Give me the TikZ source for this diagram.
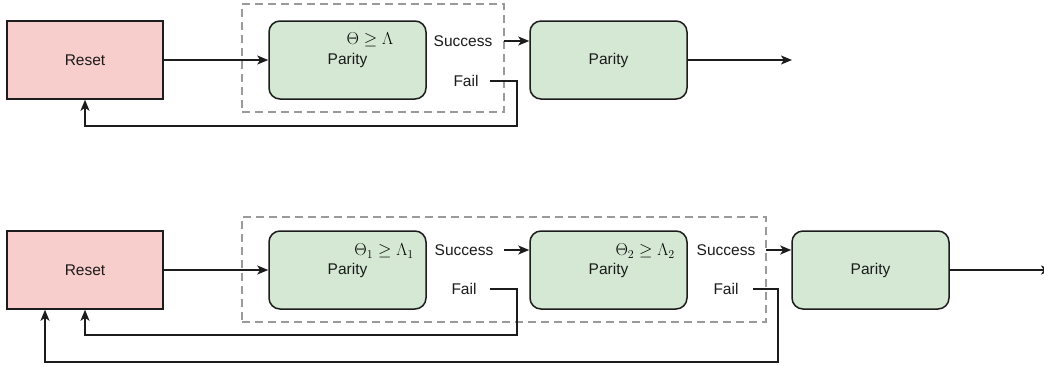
\documentclass[tikz,border=0pt]{standalone}
\usepackage{fontspec}
\setmainfont{Liberation Sans}
\usetikzlibrary{arrows.meta}

\definecolor{resetred}{HTML}{F8CECC}
\definecolor{paritygreen}{HTML}{D5E8D4}
\definecolor{edgegray}{HTML}{1C1C1C}
\definecolor{groupgray}{HTML}{9A9A9A}
\definecolor{textgray}{HTML}{1A1A1A}

\begin{document}
\begin{tikzpicture}[
  x=1pt, y=-1pt,
  base/.style={draw=edgegray, line width=1.5pt, minimum width=157pt,
    minimum height=78pt, inner sep=0pt, text=textgray,
    font=\fontsize{15.5}{18}\selectfont},
  resetbox/.style={base, fill=resetred, minimum width=156pt},
  paritybox/.style={base, fill=paritygreen, rounded corners=11pt},
  group/.style={draw=groupgray, line width=2.2pt, dash pattern=on 8pt off 5pt,
    inner sep=0pt},
  lbl/.style={inner sep=0pt, text=textgray, font=\fontsize{15.5}{18}\selectfont},
  cond/.style={inner sep=0pt, font=\fontsize{16.5}{18}\selectfont},
  link/.style={draw=edgegray, line width=1.5pt},
  flow/.style={link, -{Stealth[length=11pt, width=9pt, inset=2.8pt]}}
]
\useasboundingbox (0,0) rectangle (1044,365);

% ---------- single-stage loop ----------
\node[group, minimum width=262pt, minimum height=108pt] (groupA) at (373,58) {};
\node[resetbox]  (resetA) at (85,60)    {Reset};
\node[paritybox] (parA1)  at (347.5,60) {Parity};
\node[paritybox] (parA2)  at (608.5,60) {Parity};
\node[cond] (condA) at (370,40) {$\Theta \geq \Lambda$};
\node[lbl] (sucA)  at (463,41) {Success};
\node[lbl] (failA) at (466,81) {Fail};
\coordinate (sucAout)  at (504,41);
\coordinate (failAout) at (490,81);
\coordinate (outA)     at (792,60);

\draw[flow] (resetA) -- (parA1);
\draw[flow] (sucAout) -- (parA2.west |- sucAout);
\draw[flow] (failAout) -- (517,81) -- (517,126) -- (85,126) -- (resetA.south -| 85,0);
\draw[flow] (parA2) -- (outA);

% ---------- two-stage loop ----------
\node[group, minimum width=524pt, minimum height=105pt] (groupB) at (504,269.5) {};
\node[resetbox]  (resetB) at (85,270)    {Reset};
\node[paritybox] (parB1)  at (347.5,270) {Parity};
\node[paritybox] (parB2)  at (608.5,270) {Parity};
\node[paritybox] (parB3)  at (870.5,270) {Parity};
\node[cond, anchor=east] (condB1) at (414,251) {$\Theta_1 \geq \Lambda_1$};
\node[cond, anchor=east] (condB2) at (675,251) {$\Theta_2 \geq \Lambda_2$};
\node[lbl] (sucB1)  at (464,250) {Success};
\node[lbl] (failB1) at (464,289) {Fail};
\node[lbl] (sucB2)  at (726,250) {Success};
\node[lbl] (failB2) at (726,289) {Fail};
\coordinate (sucB1out)  at (504,250);
\coordinate (failB1out) at (490,289);
\coordinate (sucB2out)  at (766,250);
\coordinate (failB2out) at (753,289);
\coordinate (outB)      at (1052,270);

\draw[flow] (resetB) -- (parB1);
\draw[flow] (sucB1out) -- (parB2.west |- sucB1out);
\draw[flow] (sucB2out) -- (parB3.west |- sucB2out);
\draw[flow] (failB1out) -- (517,289) -- (517,335) -- (85,335) -- (resetB.south -| 85,0);
\draw[flow] (failB2out) -- (778,289) -- (778,362) -- (45,362) -- (resetB.south -| 45,0);
\draw[flow] (parB3) -- (outB);
\end{tikzpicture}
\end{document}
